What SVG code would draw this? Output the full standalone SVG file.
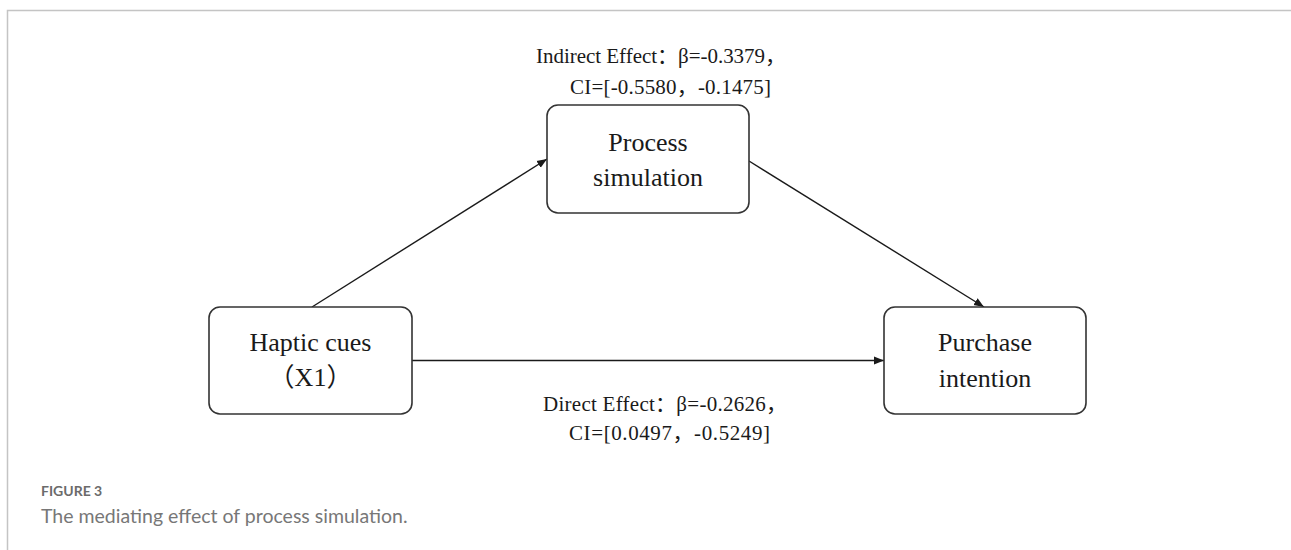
<svg xmlns="http://www.w3.org/2000/svg" width="1291" height="550" viewBox="0 0 1291 550">
<style>
.frame{stroke:#c4c4c4;stroke-width:1.5;fill:none}
.box{fill:#fff;stroke:#333;stroke-width:1.6}
.nt{font-family:"Liberation Serif","Noto Sans CJK SC",serif;font-size:26px;fill:#1a1a1a;text-anchor:middle}
.lb{font-family:"Liberation Serif","Noto Sans CJK SC",serif;font-size:21px;fill:#1a1a1a}
.edge{stroke:#1a1a1a;stroke-width:1.4;fill:none}
.cap1{font-family:Lato,"Open Sans",sans-serif;font-size:14px;font-weight:bold;fill:#6b6b6b}
.cap2{font-family:Lato,"Open Sans",sans-serif;font-size:19.5px;fill:#777}
</style>
<defs>
<marker id="arr" viewBox="0 0 10 10" refX="10" refY="5" markerWidth="10" markerHeight="10" markerUnits="userSpaceOnUse" orient="auto">
<path d="M0,1 L10,5 L0,9 Z" fill="#1a1a1a"/>
</marker>
</defs>
<rect width="1291" height="550" fill="#fff"/>
<path class="frame" d="M7.5,550 V10.5 H1291"/>
<g id="connectors">
<line class="edge" x1="312" y1="307" x2="547" y2="159" marker-end="url(#arr)"/>
<line class="edge" x1="749" y1="161" x2="984" y2="307" marker-end="url(#arr)"/>
<line class="edge" x1="412" y1="360.5" x2="884" y2="360.5" marker-end="url(#arr)"/>
</g>
<g id="node-process">
<rect class="box" x="547" y="105" width="202" height="108" rx="11"/>
<text class="nt" x="648" y="151">Process</text>
<text class="nt" x="648" y="186">simulation</text>
</g>
<g id="node-haptic">
<rect class="box" x="209" y="307" width="203" height="107" rx="11"/>
<text class="nt" x="310.5" y="351">Haptic cues</text>
<text class="nt" x="310.5" y="386">（X1）</text>
</g>
<g id="node-purchase">
<rect class="box" x="884" y="307" width="202" height="107" rx="11"/>
<text class="nt" x="985" y="351">Purchase</text>
<text class="nt" x="985" y="387">intention</text>
</g>
<g id="label-indirect">
<text class="lb" x="536" y="63" textLength="250" lengthAdjust="spacing">Indirect Effect：β=-0.3379，</text>
<text class="lb" x="570" y="94" textLength="201" lengthAdjust="spacing">CI=[-0.5580，-0.1475]</text>
</g>
<g id="label-direct">
<text class="lb" x="543" y="411" textLength="244" lengthAdjust="spacing">Direct Effect：β=-0.2626，</text>
<text class="lb" x="569" y="440" textLength="201" lengthAdjust="spacing">CI=[0.0497，-0.5249]</text>
</g>
<g id="caption">
<text class="cap1" x="41" y="496">FIGURE 3</text>
<text class="cap2" x="41" y="523">The mediating effect of process simulation.</text>
</g>
</svg>
